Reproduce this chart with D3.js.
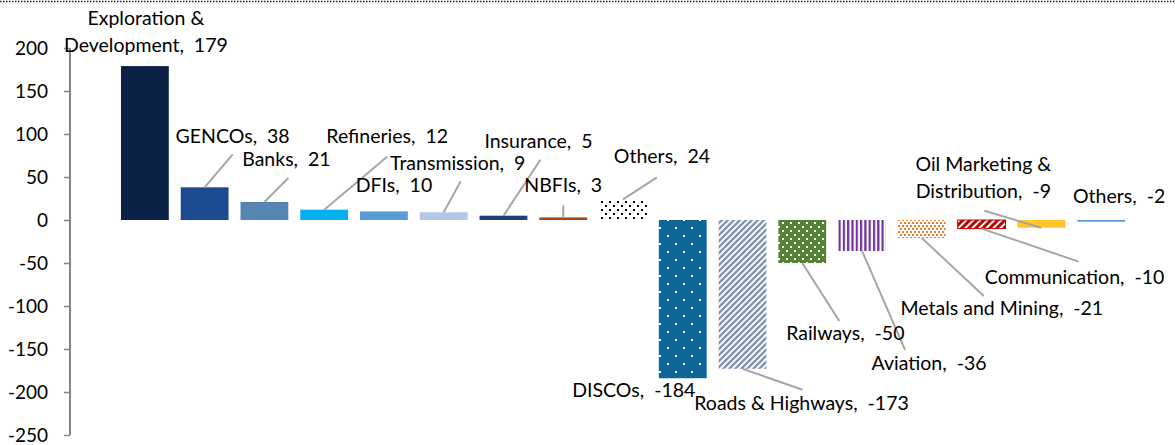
<!DOCTYPE html>
<html>
<head>
<meta charset="utf-8">
<script src="https://cdn.jsdelivr.net/npm/d3@7"></script>
<style>
  html, body { margin: 0; padding: 0; background: #fff; }
  svg { display: block; }
  text { font-family: Lato, "Open Sans", sans-serif; fill: #000; }
</style>
</head>
<body>
<svg id="chart" width="1175" height="445"></svg>
<script>
// Sector flows (positive and negative), one bar per sector
const categories = [
  "Exploration &\nDevelopment", "GENCOs", "Banks", "Refineries", "DFIs",
  "Transmission", "Insurance", "NBFIs", "Others",
  "DISCOs", "Roads & Highways", "Railways", "Aviation",
  "Metals and Mining", "Communication", "Oil Marketing &\nDistribution", "Others"
];
const values = [179, 38, 21, 12, 10, 9, 5, 3, 24, -184, -173, -50, -36, -21, -10, -9, -2];
const yTicks = [200, 150, 100, 50, 0, -50, -100, -150, -200, -250];

// Fill for each bar: plain colour or pattern id
const fills = [
  "#0c2146", "#1c4a8e", "#5585b0", "#00b0f0", "#5b9bd5",
  "#b4c7e7", "#203f76", "#a5470f", "url(#pDotsBlack)",
  "url(#pDotsDisco)", "url(#pStripeGrey)", "url(#pDotsGreen)", "url(#pVertPurple)",
  "url(#pDotsOrange)", "url(#pStripeRed)", "#ffc72c", "#5b9bd5"
];

// Label placement: [dx, dy] of the last text line relative to bar centre / bar end
const labelOffsets = [
  [1, -14], [28, -44], [22, -36], [63, -67], [10, -19],
  [14, -42], [35, -68], [0, -25], [39, -36],
  [-49, 19], [59, 41], [43, 77], [67, 119],
  [80, 77], [93, 55], [-58, -30], [18, -19]
];
// Leader line end relative to bar centre / bar end (null = none)
const leaderEnds = [
  null, [28, -33], [24, -24], [63, -53], null,
  [17, -31], [37, -56], [0, -12], [34, -22],
  null, [60, 21], [37, 58], [43, 99],
  [62, 58], [97, 33], [-57, -17], null
];

const svg = d3.select("#chart");
const defs = svg.append("defs");

function pattern(id, w, h, bg) {
  const p = defs.append("pattern").attr("id", id)
    .attr("patternUnits", "userSpaceOnUse").attr("width", w).attr("height", h);
  p.append("rect").attr("width", w).attr("height", h).attr("fill", bg);
  return p;
}
// black dots on white
let p = pattern("pDotsBlack", 8, 8, "#fff");
p.append("rect").attr("x", 1).attr("y", 1).attr("width", 2).attr("height", 2).attr("fill", "#000");
p.append("rect").attr("x", 5).attr("y", 5).attr("width", 2).attr("height", 2).attr("fill", "#000");
// white dots on blue (sparse)
p = pattern("pDotsDisco", 16, 16, "#0e6598");
p.append("rect").attr("x", 3).attr("y", 3).attr("width", 2).attr("height", 2).attr("fill", "#fff");
p.append("rect").attr("x", 11).attr("y", 11).attr("width", 2).attr("height", 2).attr("fill", "#fff");
// grey diagonal stripes
p = pattern("pStripeGrey", 6, 6, "#fff");
p.append("path").attr("d", "M-1,7 L7,-1 M-4,4 L4,-4 M2,10 L10,2")
  .attr("stroke", "#8497b0").attr("stroke-width", 2.4);
// white dots on green
p = pattern("pDotsGreen", 8, 8, "#548235");
p.append("rect").attr("x", 2).attr("y", 2).attr("width", 2).attr("height", 2).attr("fill", "#fff");
p.append("rect").attr("x", 6).attr("y", 6).attr("width", 2).attr("height", 2).attr("fill", "#fff");
// purple vertical stripes
p = pattern("pVertPurple", 4.3, 4, "#fff");
p.append("rect").attr("x", 0).attr("y", 0).attr("width", 2.2).attr("height", 4).attr("fill", "#7030a0");
// orange dotted grid
p = pattern("pDotsOrange", 4, 6, "#fff");
p.append("rect").attr("x", 0).attr("y", 0).attr("width", 2).attr("height", 2).attr("fill", "#ed7d31");
p.append("rect").attr("x", 2).attr("y", 3).attr("width", 2).attr("height", 2).attr("fill", "#ed7d31");
// red diagonal stripes
p = pattern("pStripeRed", 7, 7, "#fff");
p.append("path").attr("d", "M-1,8 L8,-1 M-4.5,4.5 L4.5,-4.5 M2.5,11.5 L11.5,2.5")
  .attr("stroke", "#c00000").attr("stroke-width", 3);

// dotted rule along the top
svg.append("line").attr("x1", 0).attr("x2", 1175).attr("y1", 1.5).attr("y2", 1.5)
  .attr("stroke", "#222").attr("stroke-width", 1.3).attr("stroke-dasharray", "1.5,1.5");

const x = d3.scaleBand().domain(d3.range(categories.length))
  .range([115, 1131]).paddingInner(0.2).paddingOuter(0.1);
const y = d3.scaleLinear().domain([-250, 200]).range([435, 48]);

// y axis
const yAxis = svg.append("g").attr("transform", "translate(70,0)")
  .call(d3.axisLeft(y).tickValues(yTicks).tickSize(6).tickPadding(16).tickFormat(d => String(d)));
yAxis.select(".domain").attr("stroke", "#868686").attr("stroke-width", 2).attr("d", `M0,${y(200)}V${y(-250)}`);
yAxis.selectAll(".tick line").attr("stroke", "#868686").attr("stroke-width", 1.5);
yAxis.selectAll(".tick text").attr("font-size", 19).attr("font-family", "Lato, sans-serif").attr("fill", "#000");

// bars
svg.append("g").selectAll("rect").data(values).join("rect")
  .attr("x", (d, i) => x(i))
  .attr("width", x.bandwidth())
  .attr("y", d => Math.min(y(d), y(0)))
  .attr("height", d => Math.max(1.5, Math.abs(y(d) - y(0))))
  .attr("fill", (d, i) => fills[i])
  .attr("stroke", (d, i) => i === 14 ? "#c00000" : "none")
  .attr("stroke-width", 1);

// leader lines
const cx = i => x(i) + x.bandwidth() / 2;
svg.append("g").selectAll("line").data(values.map((v, i) => ({ v, i })).filter(d => leaderEnds[d.i]))
  .join("line")
  .attr("x1", d => cx(d.i)).attr("y1", d => y(d.v))
  .attr("x2", d => cx(d.i) + leaderEnds[d.i][0]).attr("y2", d => y(d.v) + leaderEnds[d.i][1])
  .attr("stroke", "#a6a6a6").attr("stroke-width", 2);

// data labels
const labels = svg.append("g");
values.forEach((v, i) => {
  const lines = categories[i].split("\n");
  lines[lines.length - 1] += ",\u00a0 " + v;
  const t = labels.append("text")
    .attr("text-anchor", "middle").attr("font-size", 19.5)
    .attr("x", cx(i) + labelOffsets[i][0])
    .attr("y", y(v) + labelOffsets[i][1]);
  lines.forEach((ln, k) => {
    t.append("tspan").attr("x", cx(i) + labelOffsets[i][0])
      .attr("dy", k === 0 ? -(lines.length - 1) * 27 : 27).text(ln);
  });
});
</script>
</body>
</html>
